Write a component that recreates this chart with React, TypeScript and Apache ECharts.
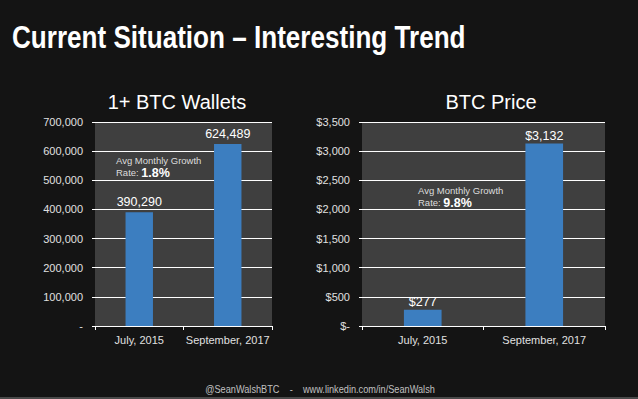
import React, { useEffect, useRef } from "react";
import * as echarts from "echarts";

const categories = ["July, 2015", "September, 2017"];
const walletValues = [390290, 624489];
const priceValues = [277, 3132];
const walletAxis = { min: 0, max: 700000, interval: 100000 };
const priceAxis = { min: 0, max: 3500, interval: 500 };
const walletGrowth = "1.8%";
const priceGrowth = "9.8%";

const fmt = (v: number) => v.toLocaleString("en-US");

export default function App() {
  const ref = useRef<HTMLDivElement>(null);
  useEffect(() => {
    if (!ref.current) return;
    const chart = echarts.init(ref.current, null, { renderer: "svg" });
    const labelColor = "#e0e0e0";
    const font = "Liberation Sans, Arial, sans-serif";
    const xAxisBase = {
      type: "category" as const,
      data: categories,
      axisLine: { show: true, lineStyle: { color: "#ffffff", width: 1 } },
      axisTick: { show: true, length: 4, lineStyle: { color: "#ffffff" } },
      axisLabel: { color: labelColor, fontSize: 11, fontFamily: font, margin: 8, interval: 0 },
    };
    const yAxisBase = {
      type: "value" as const,
      axisLine: { show: false },
      axisTick: { show: true, length: 3, lineStyle: { color: "#ffffff" } },
      splitLine: { show: true, lineStyle: { color: "#ffffff", width: 1.2 } },
      axisLabel: { color: labelColor, fontSize: 11, fontFamily: font, margin: 12 },
    };
    const annotation = (x: number, y: number, pct: string) => [
      {
        type: "text",
        left: x,
        top: y,
        style: { text: "Avg Monthly Growth", fill: "#dddddd", fontSize: 9.5, fontFamily: font },
      },
      {
        type: "text",
        left: x,
        top: y + 11,
        style: {
          text: "{r|Rate: }{b|" + pct + "}",
          rich: {
            r: { fill: "#dddddd", fontSize: 9.5, fontFamily: font },
            b: { fill: "#ffffff", fontSize: 12.5, fontWeight: "bold", fontFamily: font },
          },
        },
      },
    ];
    chart.setOption({
      animation: false,
      backgroundColor: "#141414",
      graphic: [
        {
          type: "text",
          x: 12,
          y: 37,
          scaleX: 0.815,
          style: {
            text: "Current Situation – Interesting Trend",
            fill: "#ffffff",
            fontSize: 32,
            fontWeight: "bold",
            fontFamily: font,
            verticalAlign: "middle",
          },
        },
        {
          type: "text",
          x: 177,
          y: 102,
          style: {
            text: "1+ BTC Wallets",
            fill: "#ffffff",
            fontSize: 20,
            fontFamily: font,
            align: "center",
            verticalAlign: "middle",
          },
        },
        {
          type: "text",
          x: 491,
          y: 102,
          style: {
            text: "BTC Price",
            fill: "#ffffff",
            fontSize: 20,
            fontFamily: font,
            align: "center",
            verticalAlign: "middle",
          },
        },
        ...annotation(116, 155, walletGrowth),
        ...annotation(418, 185, priceGrowth),
        {
          type: "text",
          x: 320,
          y: 389,
          scaleX: 0.92,
          style: {
            text: "@SeanWalshBTC    -    www.linkedin.com/in/SeanWalsh",
            fill: "#c0c0c0",
            fontSize: 10,
            fontFamily: font,
            align: "center",
            verticalAlign: "middle",
          },
        },
        {
          type: "rect",
          shape: { x: 0, y: 397, width: 638, height: 2 },
          style: { fill: "#4a4a4a" },
        },
      ],
      grid: [
        { left: 95, top: 122, width: 177, height: 204, show: true, backgroundColor: "#3f3f3f", borderWidth: 0 },
        { left: 362, top: 122, width: 243, height: 204, show: true, backgroundColor: "#3f3f3f", borderWidth: 0 },
      ],
      xAxis: [
        { ...xAxisBase, gridIndex: 0 },
        { ...xAxisBase, gridIndex: 1 },
      ],
      yAxis: [
        {
          ...yAxisBase,
          gridIndex: 0,
          ...walletAxis,
          axisLabel: { ...yAxisBase.axisLabel, formatter: (v: number) => (v === 0 ? "-" : fmt(v)) },
        },
        {
          ...yAxisBase,
          gridIndex: 1,
          ...priceAxis,
          axisLabel: { ...yAxisBase.axisLabel, formatter: (v: number) => (v === 0 ? "$-" : "$" + fmt(v)) },
        },
      ],
      series: [
        {
          type: "bar",
          xAxisIndex: 0,
          yAxisIndex: 0,
          data: walletValues,
          barWidth: "31%",
          itemStyle: { color: "#3c7ec0" },
          label: {
            show: true,
            position: "top",
            distance: 4,
            color: "#ffffff",
            fontSize: 12.5,
            fontFamily: font,
            formatter: (p: any) => fmt(p.value),
          },
        },
        {
          type: "bar",
          xAxisIndex: 1,
          yAxisIndex: 1,
          data: priceValues,
          barWidth: "31%",
          itemStyle: { color: "#3c7ec0" },
          label: {
            show: true,
            position: "top",
            distance: 1,
            color: "#ffffff",
            fontSize: 12.5,
            fontFamily: font,
            formatter: (p: any) => "$" + fmt(p.value),
          },
        },
      ],
    });
    return () => chart.dispose();
  }, []);
  return (
    <div
      ref={ref}
      style={{ position: "absolute", left: 0, top: 0, width: 638, height: 399 }}
    />
  );
}
